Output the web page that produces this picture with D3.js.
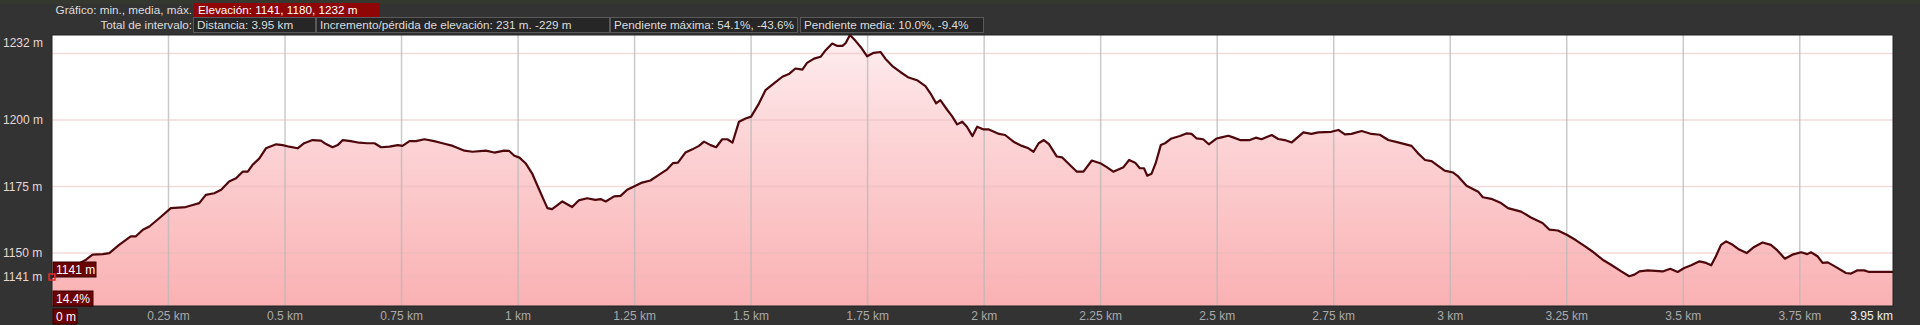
<!DOCTYPE html>
<html>
<head>
<meta charset="utf-8">
<script src="https://cdnjs.cloudflare.com/ajax/libs/d3/7.8.5/d3.min.js"></script>
<style>
  html, body { margin: 0; padding: 0; background: #333; }
  svg { display: block; }
  text { font-family: "Liberation Sans", Arial, sans-serif; font-size: 12px; }
  text.hdr { font-size: 11.7px; }
</style>
</head>
<body>
<script>
// distance along the track (km) and elevation (m)
var distances = [0, 0.015, 0.073, 0.087, 0.109, 0.123, 0.144, 0.169, 0.180, 0.195, 0.209, 0.230, 0.255, 0.287, 0.302, 0.316, 0.330, 0.348, 0.363, 0.380, 0.395, 0.409, 0.420, 0.430, 0.445, 0.459, 0.481, 0.495, 0.509, 0.527, 0.541, 0.559, 0.577, 0.588, 0.602, 0.613, 0.624, 0.641, 0.659, 0.677, 0.692, 0.706, 0.724, 0.742, 0.752, 0.767, 0.781, 0.799, 0.820, 0.838, 0.860, 0.885, 0.902, 0.931, 0.949, 0.970, 0.981, 0.992,
  1.003, 1.016, 1.030, 1.044, 1.055, 1.063, 1.073, 1.095, 1.116, 1.130, 1.148, 1.166, 1.177, 1.188, 1.206, 1.220, 1.234, 1.252, 1.266, 1.284, 1.302, 1.320, 1.332, 1.343, 1.359, 1.374, 1.388, 1.399, 1.413, 1.425, 1.438, 1.449, 1.460, 1.474, 1.488, 1.500, 1.517, 1.531, 1.549, 1.567, 1.581, 1.595, 1.610, 1.620, 1.635, 1.649, 1.660, 1.674, 1.685, 1.696, 1.703, 1.712, 1.724, 1.735, 1.749, 1.763, 1.778, 1.788, 1.803, 1.820, 1.838, 1.856, 1.874, 1.885, 1.897, 1.906, 1.921, 1.931, 1.942, 1.953, 1.963, 1.975, 1.985, 1.999, 2.010,
  2.032, 2.045, 2.063, 2.081, 2.095, 2.106, 2.117, 2.128, 2.139, 2.156, 2.167, 2.184, 2.199, 2.213, 2.231, 2.249, 2.263, 2.277, 2.299, 2.311, 2.324, 2.334, 2.343, 2.350, 2.359, 2.368, 2.379, 2.388, 2.402, 2.420, 2.434, 2.445, 2.456, 2.470, 2.482, 2.499, 2.509, 2.524, 2.534, 2.549, 2.570, 2.583, 2.595, 2.617, 2.631, 2.645, 2.660, 2.670, 2.685, 2.702, 2.717, 2.745, 2.760, 2.774, 2.788, 2.810, 2.831, 2.849, 2.867, 2.888, 2.917, 2.931, 2.946, 2.960, 2.974, 2.988, 3.006, 3.017, 3.035,
  3.060, 3.070, 3.088, 3.109, 3.124, 3.152, 3.173, 3.198, 3.213, 3.231, 3.250, 3.270, 3.291, 3.305, 3.327, 3.345, 3.367, 3.384, 3.395, 3.406, 3.424, 3.456, 3.472, 3.488, 3.502, 3.517, 3.535, 3.549, 3.560, 3.570, 3.581, 3.592, 3.606, 3.620, 3.636, 3.652, 3.670, 3.688, 3.702, 3.718, 3.734, 3.753, 3.766, 3.774, 3.788, 3.799, 3.810, 3.827, 3.849, 3.860, 3.874, 3.888, 3.899, 3.95];

var elevations = [1141, 1142, 1147.5, 1149.4, 1149.6, 1150, 1153.1, 1156.3, 1156.3, 1158.8, 1160, 1163.1, 1166.9, 1167.3, 1168.1, 1168.8, 1171.9, 1172.5, 1173.8, 1176.9, 1178.1, 1180.6, 1180.6, 1183.1, 1185.6, 1189.4, 1190.9, 1190.6, 1190, 1189.4, 1191.3, 1192.5, 1192.3, 1191, 1189.8, 1190.6, 1192.5, 1192.1, 1191.5, 1191.3, 1191.3, 1189.8, 1190, 1190.6, 1190.3, 1192.1, 1192.1, 1192.8, 1192.1, 1191.3, 1190.3, 1188.5, 1188.1, 1188.5, 1187.8, 1188.5, 1188.4, 1186.6,
  1185.9, 1183.8, 1180, 1174.4, 1170, 1166.9, 1166.5, 1169.4, 1167.3, 1169.8, 1170.6, 1170, 1170.3, 1169.4, 1171.3, 1171.5, 1173.8, 1175.3, 1176.5, 1177.3, 1179.4, 1181.5, 1183.8, 1184, 1187.8, 1189, 1190.3, 1191.9, 1190.6, 1189.8, 1192.8, 1192.8, 1191.5, 1199.4, 1200.6, 1201.3, 1206.3, 1211.3, 1213.8, 1216.3, 1217.3, 1219.4, 1219, 1221.5, 1223.1, 1223.8, 1226.3, 1228.8, 1227.9, 1227.9, 1229, 1232, 1229.8, 1227.5, 1224, 1225.3, 1225.6, 1223.1, 1220.3, 1218.1, 1216, 1215, 1212.8, 1210, 1206.3, 1207.5, 1203.8, 1201.5, 1198.4, 1199.4, 1197.5, 1194, 1197.5, 1196.5, 1196.5,
  1194.8, 1194.4, 1191.9, 1190.3, 1189.4, 1188.1, 1191.3, 1192.5, 1191, 1186.3, 1186, 1183.1, 1180.6, 1180.6, 1184.8, 1183.8, 1182.3, 1180.6, 1182.3, 1185, 1184, 1181.9, 1181.9, 1179.1, 1179.8, 1183.8, 1190.6, 1191.3, 1193.1, 1194, 1195, 1194.8, 1193.1, 1192.8, 1190.9, 1193.1, 1193.5, 1194.1, 1193.5, 1192.5, 1192.5, 1193.4, 1192.8, 1194.4, 1192.9, 1192.5, 1191.6, 1193.1, 1195.4, 1194.8, 1195.4, 1195.6, 1196.3, 1194.6, 1194.8, 1195.9, 1194.8, 1194.5, 1192.5, 1191.6, 1190.3, 1187.5, 1185, 1184.6, 1182.8, 1181, 1180.3, 1178.8, 1175.3,
  1173.1, 1171, 1170.4, 1168.8, 1166.9, 1165.6, 1163.4, 1161.3, 1158.8, 1158.5, 1156.9, 1154.8, 1152.3, 1150.6, 1147.5, 1145.6, 1143.1, 1141.3, 1141.9, 1143.1, 1143.5, 1143.1, 1144.1, 1142.9, 1144.4, 1145.4, 1146.9, 1146.3, 1145.4, 1148.8, 1153.1, 1154.4, 1153.1, 1151.3, 1150, 1152.3, 1154, 1153.1, 1151, 1147.9, 1149.4, 1150.3, 1149.6, 1150.3, 1148.8, 1146.3, 1146.5, 1144.8, 1142.5, 1142.3, 1143.5, 1143.5, 1142.9, 1142.9];

var xTickValues = [0.25, 0.5, 0.75, 1, 1.25, 1.5, 1.75, 2, 2.25, 2.5, 2.75, 3, 3.25, 3.5, 3.75];
var xTickLabels = ["0.25 km", "0.5 km", "0.75 km", "1 km", "1.25 km", "1.5 km", "1.75 km", "2 km", "2.25 km", "2.5 km", "2.75 km", "3 km", "3.25 km", "3.5 km", "3.75 km"];
var yLabelValues = [1232, 1200, 1175, 1150, 1141];
var yGridValues = [1225, 1200, 1175, 1150, 1141];
var yMin = 1130.1, yMax = 1232, totalKm = 3.95;

var headerRow1 = ["Gráfico: min., media, máx.", "Elevación: 1141, 1180, 1232 m"];
var headerRow2 = ["Total de intervalo:", "Distancia: 3.95 km", "Incremento/pérdida de elevación: 231 m. -229 m", "Pendiente máxima: 54.1%, -43.6%", "Pendiente media: 10.0%, -9.4%"];
var startLabels = ["1141 m", "14.4%", "0 m"];
var endLabel = "3.95 km";

var W = 1920, H = 325;
var plotL = 52, plotR = 1893, plotT = 35, plotB = 306;

var svg = d3.select("body").append("svg")
    .attr("width", W)
    .attr("height", H);

svg.append("rect").attr("width", W).attr("height", H).attr("fill", "#333");
svg.append("rect").attr("width", W).attr("height", 4).attr("fill", "#34382f");

var x = d3.scaleLinear().domain([0, totalKm]).range([plotL, plotR]);
var y = d3.scaleLinear().domain([yMin, yMax]).range([plotB, plotT]);

// gradient for the area
var grad = svg.append("defs").append("linearGradient")
    .attr("id", "fillGrad")
    .attr("gradientUnits", "userSpaceOnUse")
    .attr("x1", 0).attr("y1", plotT).attr("x2", 0).attr("y2", plotB);
grad.append("stop").attr("offset", "0%").attr("stop-color", "#feeef0");
grad.append("stop").attr("offset", "35%").attr("stop-color", "#fcd6d8");
grad.append("stop").attr("offset", "100%").attr("stop-color", "#fab1b3");

// plot background
svg.append("rect")
    .attr("x", plotL).attr("y", plotT)
    .attr("width", plotR - plotL).attr("height", plotB - plotT)
    .attr("fill", "#fff");

var points = distances.map(function(d, i) { return [d, elevations[i]]; });

var area = d3.area()
    .x(function(d) { return x(d[0]); })
    .y0(plotB)
    .y1(function(d) { return y(d[1]); });

var line = d3.line()
    .x(function(d) { return x(d[0]); })
    .y(function(d) { return y(d[1]); });

svg.append("path")
    .datum(points)
    .attr("d", area)
    .attr("fill", "url(#fillGrad)");

// horizontal grid
svg.selectAll(".hgrid")
    .data(yGridValues)
    .enter()
    .append("line")
    .attr("x1", plotL).attr("x2", plotR)
    .attr("y1", function(d) { return y(d); })
    .attr("y2", function(d) { return y(d); })
    .attr("stroke", "#e9b9bb")
    .attr("stroke-opacity", function(d) { return d == 1141 ? 0.35 : 0.5; })
    .attr("stroke-width", 1.5);

// vertical grid
svg.selectAll(".vgrid")
    .data(xTickValues)
    .enter()
    .append("line")
    .attr("x1", function(d) { return x(d); })
    .attr("x2", function(d) { return x(d); })
    .attr("y1", plotT).attr("y2", plotB)
    .attr("stroke", "#b8b8b8")
    .attr("stroke-opacity", 0.75)
    .attr("stroke-width", 1.5);

svg.append("path")
    .datum(points)
    .attr("d", line)
    .attr("fill", "none")
    .attr("stroke", "#4e080c")
    .attr("stroke-width", 2.2)
    .attr("stroke-linejoin", "round");

// plot border
svg.append("rect")
    .attr("x", plotL).attr("y", plotT)
    .attr("width", plotR - plotL).attr("height", plotB - plotT)
    .attr("fill", "none")
    .attr("stroke", "#222")
    .attr("stroke-width", 1);

// y labels
svg.selectAll(".ylab")
    .data(yLabelValues)
    .enter()
    .append("text")
    .attr("x", 3)
    .attr("y", function(d) { return d == yMax ? y(d) + 8 : y(d); })
    .attr("dy", "0.35em")
    .attr("fill", "#e6d6d6")
    .text(function(d) { return d + " m"; });

// x labels
svg.selectAll(".xlab")
    .data(xTickValues)
    .enter()
    .append("text")
    .attr("x", function(d) { return x(d); })
    .attr("y", 320)
    .attr("text-anchor", "middle")
    .attr("fill", "#a9a9a9")
    .text(function(d, i) { return xTickLabels[i]; });

svg.append("text")
    .attr("x", x(totalKm))
    .attr("y", 320)
    .attr("text-anchor", "end")
    .attr("fill", "#eee")
    .text(endLabel);

// start markers
function tag(txt, bx, by, bw) {
    svg.append("rect")
        .attr("x", bx).attr("y", by)
        .attr("width", bw).attr("height", 15)
        .attr("fill", "#6a0404")
        .attr("stroke", "#3a0000");
    svg.append("text")
        .attr("x", bx + 3).attr("y", by + 12)
        .attr("fill", "#fff")
        .text(txt);
}
tag(startLabels[0], 53, 262, 43);
tag(startLabels[1], 53, 291, 40);
tag(startLabels[2], 53, 309, 24);

svg.append("rect")
    .attr("x", x(0) - 3).attr("y", y(elevations[0]) - 3)
    .attr("width", 6).attr("height", 6)
    .attr("fill", "none")
    .attr("stroke", "#e03030")
    .attr("stroke-width", 1.5);

// header
svg.append("text").attr("class", "hdr")
    .attr("x", 192).attr("y", 14)
    .attr("text-anchor", "end")
    .attr("fill", "#ddd")
    .text(headerRow1[0]);
svg.append("rect")
    .attr("x", 194).attr("y", 3).attr("width", 186).attr("height", 14)
    .attr("fill", "#8e0606");
svg.append("text").attr("class", "hdr")
    .attr("x", 198).attr("y", 14)
    .attr("fill", "#fff")
    .text(headerRow1[1]);

svg.append("text").attr("class", "hdr")
    .attr("x", 192).attr("y", 29)
    .attr("text-anchor", "end")
    .attr("fill", "#ddd")
    .text(headerRow2[0]);

// box x, box width
var boxes = [[193, 122], [316, 293], [610, 187], [800, 183]];
boxes.forEach(function(b, i) {
    svg.append("rect")
        .attr("x", b[0] + 0.5).attr("y", 17.5)
        .attr("width", b[1]).attr("height", 15)
        .attr("fill", "#262626")
        .attr("stroke", "#5a5a5a");
    svg.append("text").attr("class", "hdr")
        .attr("x", b[0] + 4).attr("y", 29)
        .attr("fill", "#ddd")
        .text(headerRow2[i + 1]);
});
</script>
</body>
</html>
